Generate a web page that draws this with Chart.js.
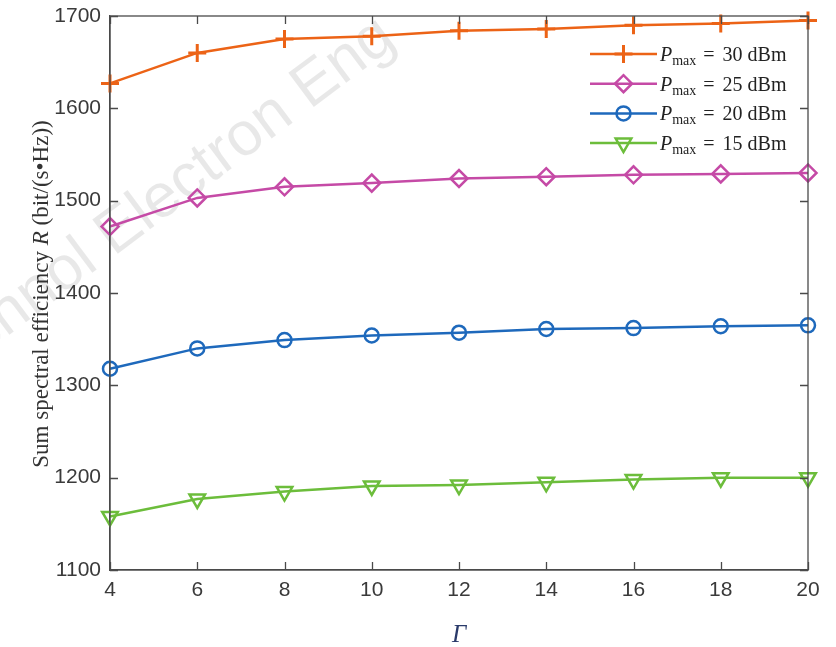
<!DOCTYPE html>
<html>
<head>
<meta charset="utf-8">
<script src="https://cdn.jsdelivr.net/npm/chart.js@4/dist/chart.umd.min.js"></script>
<style>
  html, body { margin: 0; padding: 0; background: #fff; }
  #wrap { width: 836px; height: 647px; }
</style>
</head>
<body>
<div id="wrap"><canvas id="c" width="836" height="647"></canvas></div>
<script>
// Γ values on the x axis
const gammaValues = [4, 6, 8, 10, 12, 14, 16, 18, 20];

// sum spectral efficiency per transmit power budget
const p30 = [1627, 1660, 1675, 1678, 1684, 1686, 1690, 1692, 1695];
const p25 = [1472, 1503, 1515, 1519, 1524, 1526, 1528, 1529, 1530];
const p20 = [1318, 1340, 1349, 1354, 1357, 1361, 1362, 1364, 1365];
const p15 = [1158, 1177, 1185, 1191, 1192, 1195, 1198, 1200, 1200];

const seriesLabels = ["30 dBm", "25 dBm", "20 dBm", "15 dBm"];
const yTicks = [1100, 1200, 1300, 1400, 1500, 1600, 1700];
const xTicks = [4, 6, 8, 10, 12, 14, 16, 18, 20];

const COLORS = {
  p30: "#EC6316",
  p25: "#C54AA6",
  p20: "#1E69BC",
  p15: "#6CBD3B",
};

const AXIS_COLOR = "#4a4a4a";
const TICK_FONT = "Liberation Sans, Arial, sans-serif";
const SERIF = "Liberation Serif, 'Times New Roman', serif";

function pts(ys) {
  return gammaValues.map((g, i) => ({ x: g, y: ys[i] }));
}

function series(label, ys, color, style, radius, rotation, bw) {
  return {
    label: label,
    data: pts(ys),
    borderColor: color,
    backgroundColor: "rgba(0,0,0,0)",
    borderWidth: 2.5,
    pointStyle: style,
    pointRadius: radius,
    pointHoverRadius: radius,
    pointRotation: rotation,
    pointBorderWidth: bw,
    pointBorderColor: color,
    pointBackgroundColor: "rgba(0,0,0,0)",
    tension: 0,
    clip: false,
  };
}

// faint diagonal watermark across the upper left
const watermark = {
  id: "watermark",
  beforeDraw(chart) {
    const ctx = chart.ctx;
    ctx.save();
    ctx.translate(398, 44);
    ctx.rotate(-36.8 * Math.PI / 180);
    ctx.font = "62px " + TICK_FONT;
    ctx.fillStyle = "rgba(0,0,0,0.09)";
    ctx.textAlign = "right";
    ctx.textBaseline = "alphabetic";
    ctx.fillText("Front Inform Technol Electron Eng", 0, 0);
    ctx.restore();
  },
};

// closed box + inward ticks on all four sides
const boxTicks = {
  id: "boxTicks",
  afterDraw(chart) {
    const { ctx, chartArea: a, scales } = chart;
    const len = 8;
    ctx.save();
    ctx.strokeStyle = AXIS_COLOR;
    ctx.lineWidth = 1.3;
    ctx.strokeRect(a.left, a.top, a.right - a.left, a.bottom - a.top);
    ctx.beginPath();
    scales.x.ticks.forEach((t) => {
      const x = Math.round(scales.x.getPixelForValue(t.value)) + 0.5;
      ctx.moveTo(x, a.bottom); ctx.lineTo(x, a.bottom - len);
      ctx.moveTo(x, a.top); ctx.lineTo(x, a.top + len);
    });
    scales.y.ticks.forEach((t) => {
      const y = Math.round(scales.y.getPixelForValue(t.value)) + 0.5;
      ctx.moveTo(a.left, y); ctx.lineTo(a.left + len, y);
      ctx.moveTo(a.right, y); ctx.lineTo(a.right - len, y);
    });
    ctx.stroke();
    ctx.restore();
  },
};

// y title with italic R
const yTitle = {
  id: "yTitle",
  afterDraw(chart) {
    const ctx = chart.ctx;
    const runs = [
      { t: "Sum spectral efficiency ", f: "23px " + SERIF },
      { t: "R", f: "italic 23px " + SERIF },
      { t: " (bit/(s\u2022Hz))", f: "23px " + SERIF },
    ];
    ctx.save();
    let total = 0;
    runs.forEach((r) => { ctx.font = r.f; r.w = ctx.measureText(r.t).width; total += r.w; });
    ctx.translate(48, 294);
    ctx.rotate(-Math.PI / 2);
    ctx.fillStyle = "#333";
    ctx.textBaseline = "alphabetic";
    let x = -total / 2;
    runs.forEach((r) => { ctx.font = r.f; ctx.fillText(r.t, x, 0); x += r.w; });
    ctx.restore();
  },
};

// legend in the top right corner with P_max subscripts
const pmaxLegend = {
  id: "pmaxLegend",
  afterDatasetsDraw(chart) {
    const ctx = chart.ctx;
    const x0 = 590, lineLen = 67, y0 = 54, rowH = 29.7;
    chart.data.datasets.forEach((ds, i) => {
      const y = y0 + i * rowH;
      ctx.save();
      ctx.strokeStyle = ds.borderColor;
      ctx.lineWidth = ds.borderWidth;
      ctx.beginPath();
      ctx.moveTo(x0, y); ctx.lineTo(x0 + lineLen, y);
      ctx.stroke();
      ctx.lineWidth = ds.pointBorderWidth;
      ctx.fillStyle = "rgba(0,0,0,0)";
      Chart.helpers.drawPoint(ctx, {
        pointStyle: ds.pointStyle,
        radius: ds.pointRadius,
        rotation: ds.pointRotation,
        borderWidth: ds.pointBorderWidth,
      }, x0 + lineLen / 2, y);
      ctx.fillStyle = "#222";
      ctx.textBaseline = "alphabetic";
      let tx = x0 + lineLen + 3;
      const base = y + 7;
      ctx.font = "italic 20px " + SERIF;
      ctx.fillText("P", tx, base);
      tx += ctx.measureText("P").width;
      ctx.font = "14px " + SERIF;
      ctx.fillText("max", tx, base + 4);
      tx += ctx.measureText("max").width + 7;
      ctx.font = "20px " + SERIF;
      ctx.fillText("=", tx, base);
      tx += ctx.measureText("=").width + 8;
      ctx.fillText(ds.label, tx, base);
      ctx.restore();
    });
  },
};

new Chart(document.getElementById("c").getContext("2d"), {
  type: "line",
  data: {
    datasets: [
      series(seriesLabels[0], p30, COLORS.p30, "cross", 9, 0, 3),
      series(seriesLabels[1], p25, COLORS.p25, "rectRot", 8.5, 0, 2.5),
      series(seriesLabels[2], p20, COLORS.p20, "circle", 7, 0, 2.5),
      series(seriesLabels[3], p15, COLORS.p15, "triangle", 9, 180, 2.5),
    ],
  },
  options: {
    responsive: false,
    animation: false,
    events: [],
    layout: { padding: { top: 16, right: 28, left: 0, bottom: 0 } },
    plugins: { legend: { display: false }, tooltip: { enabled: false } },
    scales: {
      x: {
        type: "linear",
        min: xTicks[0],
        max: xTicks[xTicks.length - 1],
        afterBuildTicks: (s) => { s.ticks = xTicks.map((v) => ({ value: v })); },
        afterFit: (s) => { s.height = 77; },
        ticks: {
          color: "#3a3a3a", font: { family: TICK_FONT, size: 21 }, padding: 8, maxRotation: 0,
          callback: (v) => String(v),
        },
        grid: { display: true, drawOnChartArea: false, drawTicks: false },
        border: { display: true, color: AXIS_COLOR, width: 1.3 },
        title: {
          display: true,
          text: "\u0393",
          color: "#2a3a6a",
          font: { family: SERIF, size: 25, style: "italic" },
          padding: { top: 0, bottom: -3 },
        },
      },
      y: {
        min: yTicks[0],
        max: yTicks[yTicks.length - 1],
        afterBuildTicks: (s) => { s.ticks = yTicks.map((v) => ({ value: v })); },
        afterFit: (s) => { s.width = 110; s.paddingTop = 0; s.paddingBottom = 0; },
        ticks: {
          color: "#3a3a3a", font: { family: TICK_FONT, size: 21 }, padding: 9,
          callback: (v) => String(v),
        },
        grid: { display: true, drawOnChartArea: false, drawTicks: false },
        border: { display: true, color: AXIS_COLOR, width: 1.3 },
      },
    },
  },
  plugins: [watermark, boxTicks, yTitle, pmaxLegend],
});
</script>
</body>
</html>
